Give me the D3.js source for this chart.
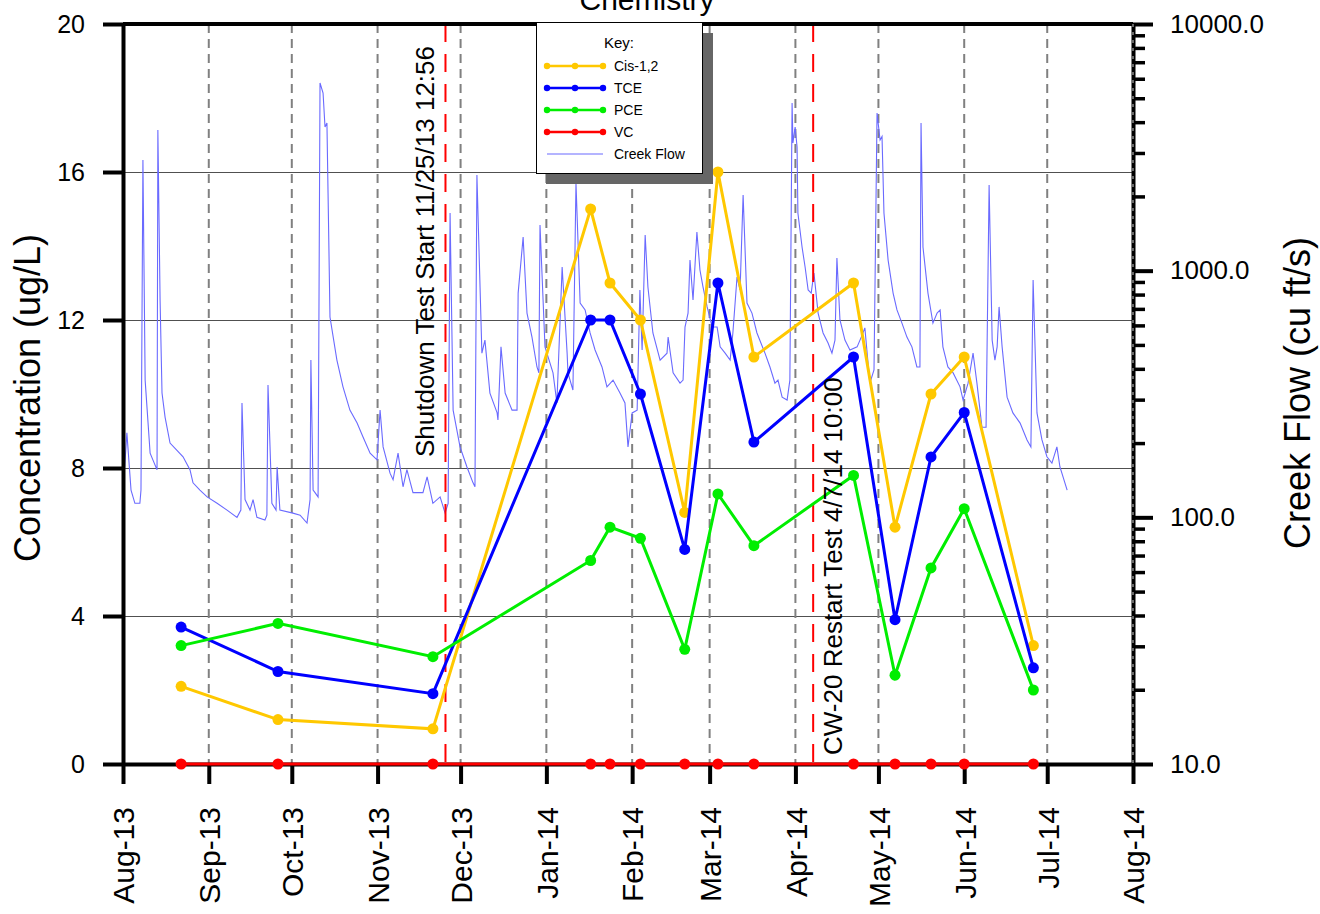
<!DOCTYPE html>
<html>
<head>
<meta charset="utf-8">
<title>Chemistry</title>
<script src="https://d3js.org/d3.v7.min.js"></script>
<style>
body {margin:0; background:white;}
text {font-family: "Liberation Sans", Arial, sans-serif; fill: black;}
</style>
</head>
<body>
<svg width="1320" height="914"></svg>
<script>
// sampling dates and concentrations (ug/L)
var sampleDates = ["2013-08-22", "2013-09-26", "2013-11-21", "2014-01-17", "2014-01-24", "2014-02-04", "2014-02-20",
                   "2014-03-04", "2014-03-17", "2014-04-22", "2014-05-07", "2014-05-20", "2014-06-01", "2014-06-26"];
var cis12 = [2.1, 1.2, 0.95, 15.0, 13.0, 12.0, 6.8, 16.0, 11.0, 13.0, 6.4, 10.0, 11.0, 3.2];
var tce   = [3.7, 2.5, 1.9, 12.0, 12.0, 10.0, 5.8, 13.0, 8.7, 11.0, 3.9, 8.3, 9.5, 2.6];
var pce   = [3.2, 3.8, 2.9, 5.5, 6.4, 6.1, 3.1, 7.3, 5.9, 7.8, 2.4, 5.3, 6.9, 2.0];
var vc    = [0, 0, 0, 0, 0, 0, 0, 0, 0, 0, 0, 0, 0, 0];

// creek flow (cu ft/s), days counted from flowStart
var flowStart = "2013-08-01";
var flowDays = [0, 1.4, 2.9, 4.3, 6.1, 6.5, 7.2, 8.0, 9.8, 10.8, 12.3, 12.6, 13.4, 14.1, 15.2, 17.0, 19.5, 21.7, 24.2, 25.3,
  27.8, 30.4, 34.0, 37.6, 41.2, 42.6, 43.0, 44.1, 45.9, 47.0, 48.4, 51.3, 52.0, 52.4, 53.8, 55.3, 55.7, 56.7, 61.4, 64.0,
  66.5, 67.6, 67.9, 68.7, 69.4, 70.5, 71.2, 72.3, 73.0, 73.7, 74.1, 74.8, 77.3, 79.5, 82.0, 84.6, 86.7, 89.3, 91.8, 92.9,
  94.0, 96.5, 97.6, 99.4, 101.2, 102.6, 104.8, 108.4, 109.9, 112.0, 114.6, 116.4, 117.5, 118.2, 119.3, 121.8, 124.3, 126.5, 127.2, 127.9,
  129.7, 130.8, 132.6, 135.2, 135.5, 136.6, 138.1, 140.6, 142.4, 142.8, 144.6, 146.0, 147.8, 149.6, 150.3, 150.7, 152.5, 155.4, 156.8, 158.7,
  160.5, 160.8, 162.6, 163.7, 165.2, 167.0, 168.8, 170.6, 173.1, 174.9, 177.1, 179.6, 181.4, 182.5, 184.0, 185.8, 186.8, 187.6, 188.7, 189.7,
  191.5, 194.1, 196.6, 197.0, 198.8, 201.3, 202.4, 203.1, 204.2, 204.9, 206.0, 207.4, 208.5, 209.6, 211.1, 212.9, 214.7, 215.8, 217.6, 219.4,
  220.4, 221.9, 223.0, 224.1, 225.5, 227.3, 229.1, 232.0, 233.8, 235.6, 236.7, 238.2, 240.0, 241.0, 241.8, 242.1, 242.9, 243.6, 243.9, 245.4,
  246.5, 247.6, 248.7, 249.7, 251.2, 253.0, 254.8, 256.2, 257.3, 258.0, 259.1, 260.9, 262.7, 265.3, 267.1, 268.1, 269.9, 271.4, 272.5, 273.6,
  274.3, 275.0, 276.5, 278.3, 279.7, 281.5, 283.3, 285.1, 286.9, 288.0, 288.4, 289.1, 290.9, 292.7, 294.2, 295.3, 296.3, 298.1, 300.0, 302.5,
  303.6, 305.4, 307.2, 308.6, 310.4, 311.9, 313.0, 314.1, 315.1, 315.9, 316.6, 317.7, 319.5, 321.6, 324.2, 326.7, 328.1, 328.9, 330.3, 332.1,
  333.9, 335.7, 337.5, 338.6, 341.2];
var flowCfs = [126, 220, 129, 114, 114, 129, 2812, 360, 182, 171, 156, 3715, 760, 319, 255, 200, 187, 176, 156, 138,
  129, 121, 114, 107, 100, 107, 291, 118, 107, 118, 100, 97.5, 102, 344, 114, 107, 160, 107, 104, 102,
  94.8, 118, 434, 129, 126, 121, 5768, 5250, 3822, 3970, 2065, 649, 434, 338, 272, 241, 212, 182, 171, 272,
  193, 151, 142, 182, 133, 156, 126, 126, 146, 114, 121, 104, 114, 1714, 272, 193, 160, 138, 133, 2443,
  463, 523, 319, 265, 248, 491, 319, 272, 272, 811, 1368, 673, 538, 407, 385, 1532, 491, 385, 291, 1035,
  463, 385, 328, 2266, 739, 693, 559, 477, 407, 338, 360, 319, 291, 193, 265, 272, 835, 477, 1396, 859,
  559, 434, 463, 538, 385, 350, 360, 591, 673, 1104, 760, 1435, 1006, 859, 713, 591, 591, 491, 463, 434,
  559, 942, 835, 2027, 739, 673, 559, 463, 407, 350, 360, 307, 299, 360, 4786, 3293, 3822, 3172, 1714, 1247,
  1035, 835, 811, 979, 673, 559, 509, 463, 523, 1125, 631, 523, 477, 491, 548, 586, 350, 396, 4355, 3388,
  3500, 1714, 1104, 811, 693, 613, 538, 491, 407, 407, 3970, 1247, 811, 613, 673, 693, 491, 407, 385, 338,
  299, 350, 463, 350, 232, 232, 2223, 523, 434, 491, 713, 491, 307, 265, 241, 206, 193, 916, 265, 206,
  176, 166, 193, 160, 129];

var concTicks = [0, 4, 8, 12, 16, 20];
var flowTicks = [10, 100, 1000, 10000];
var eventDates = ["2013-11-25T12:56", "2014-04-07T10:00"];
var eventLabels = ["Shutdown Test Start 11/25/13 12:56", "CW-20 Restart Test 4/7/14 10:00"];

var seriesNames = ["Cis-1,2", "TCE", "PCE", "VC"];
var seriesColors = ["#FFC800", "#0000FF", "#00EE00", "#FF0000"];
var flowColor = "#6A6AFF";

var plotLeft = 123, plotRight = 1133, plotTop = 24, plotBottom = 764;
var parseDay = d3.utcParse("%Y-%m-%d");
var parseTime = d3.utcParse("%Y-%m-%dT%H:%M");

var x = d3.scaleUtc().domain([parseDay("2013-08-01"), parseDay("2014-08-01")]).range([plotLeft, plotRight]);
var y = d3.scaleLinear().domain([0, 20]).range([plotBottom, plotTop]);
var yFlow = d3.scaleLog().domain([10, 10000]).range([plotBottom, plotTop]);

var svg = d3.select("svg");
var months = d3.utcMonth.range(parseDay("2013-08-01"), parseDay("2014-08-02"));

// title (clipped at the top)
svg.append("text")
  .attr("x", 647).attr("y", 10)
  .attr("text-anchor", "middle")
  .style("font-size", "30px")
  .text("Chemistry");

// horizontal grid
svg.append("g").selectAll("line")
  .data([4, 8, 12, 16])
  .enter().append("line")
  .attr("x1", plotLeft).attr("x2", plotRight)
  .attr("y1", function(d) { return y(d) + 0.5; }).attr("y2", function(d) { return y(d) + 0.5; })
  .attr("stroke", "#505050").attr("stroke-width", 1);

// vertical dashed grid at months
svg.append("g").selectAll("line")
  .data(months.slice(1, months.length - 1))
  .enter().append("line")
  .attr("x1", function(d) { return x(d); }).attr("x2", function(d) { return x(d); })
  .attr("y1", plotTop).attr("y2", plotBottom)
  .attr("stroke", "#808080").attr("stroke-width", 2)
  .attr("stroke-dasharray", "9,6");

// creek flow
var flowBase = parseDay(flowStart);
var flowData = flowDays.map(function(d, i) {
  return {date: new Date(flowBase.getTime() + d * 86400000), q: flowCfs[i]};
});
svg.append("path")
  .datum(flowData)
  .attr("fill", "none")
  .attr("stroke", flowColor)
  .attr("stroke-width", 1.1)
  .attr("d", d3.line().x(function(d) { return x(d.date); }).y(function(d) { return yFlow(d.q); }));

// event lines
eventDates.forEach(function(e, i) {
  var ex = x(parseTime(e));
  svg.append("line")
    .attr("x1", ex).attr("x2", ex).attr("y1", plotTop).attr("y2", plotBottom)
    .attr("stroke", "#FF0000").attr("stroke-width", 2)
    .attr("stroke-dasharray", "18,12");
});

// frame: top line
svg.append("line")
  .attr("x1", plotLeft).attr("x2", plotRight).attr("y1", plotTop).attr("y2", plotTop)
  .attr("stroke", "black").attr("stroke-width", 4);

// left axis
var yAxis = d3.axisLeft(y).tickValues(concTicks).tickSize(20).tickSizeOuter(0).tickPadding(18).tickFormat(d3.format("d"));
var gy = svg.append("g").attr("transform", "translate(" + plotLeft + ",0)").call(yAxis);
gy.select(".domain").attr("stroke-width", 4);
gy.selectAll(".tick line").attr("stroke-width", 4);
gy.selectAll("text").style("font-size", "25px").style("font-family", "Liberation Sans, Arial, sans-serif");

// bottom axis
var xAxis = d3.axisBottom(x).tickValues(months).tickSize(20).tickSizeOuter(0).tickFormat(d3.utcFormat("%b-%y"));
var gx = svg.append("g").attr("transform", "translate(0," + plotBottom + ")").call(xAxis);
gx.select(".domain").attr("stroke-width", 4);
gx.selectAll(".tick line").attr("stroke-width", 4);
gx.selectAll("text")
  .style("font-size", "30px").style("font-family", "Liberation Sans, Arial, sans-serif")
  .attr("text-anchor", "end")
  .attr("transform", "rotate(-90)")
  .attr("x", -43).attr("y", 0).attr("dy", "0.36em");

// right axis (log)
var minorTicks = [];
[10, 100, 1000].forEach(function(dec) {
  for (var k = 2; k <= 9; k++) minorTicks.push(dec * k);
});
var gMinor = svg.append("g").attr("transform", "translate(" + plotRight + ",0)")
  .call(d3.axisRight(yFlow).tickValues(minorTicks).tickSize(12).tickSizeOuter(0).tickFormat(""));
gMinor.select(".domain").remove();
gMinor.selectAll(".tick line").attr("stroke-width", 3.5);

var gr = svg.append("g").attr("transform", "translate(" + plotRight + ",0)")
  .call(d3.axisRight(yFlow).tickValues(flowTicks).tickSize(20).tickSizeOuter(0).tickPadding(17).tickFormat(d3.format(".1f")));
gr.select(".domain").attr("stroke-width", 4);
gr.selectAll(".tick line").attr("stroke-width", 4);
gr.selectAll("text").style("font-size", "26px").style("font-family", "Liberation Sans, Arial, sans-serif");
svg.append("line")
  .attr("x1", plotRight).attr("x2", plotRight).attr("y1", plotTop).attr("y2", plotBottom)
  .attr("stroke", "#8a8a8a").attr("stroke-width", 1.5)
  .attr("stroke-dasharray", "3,5");

// concentration series (drawn over the axes, VC sits on the zero line)
var allSeries = [cis12, tce, pce, vc];
allSeries.forEach(function(vals, i) {
  var pts = vals.map(function(v, j) { return {date: parseDay(sampleDates[j]), v: v}; });
  svg.append("path")
    .datum(pts)
    .attr("fill", "none")
    .attr("stroke", seriesColors[i])
    .attr("stroke-width", 3)
    .attr("d", d3.line().x(function(d) { return x(d.date); }).y(function(d) { return y(d.v); }));
  svg.append("g").selectAll("circle")
    .data(pts)
    .enter().append("circle")
    .attr("cx", function(d) { return x(d.date); })
    .attr("cy", function(d) { return y(d.v); })
    .attr("r", 5.5)
    .attr("fill", seriesColors[i]);
});

// event labels
svg.append("text")
  .attr("transform", "translate(" + (x(parseTime(eventDates[0])) - 11) + ",457) rotate(-90)")
  .style("font-size", "26px")
  .text(eventLabels[0]);
svg.append("text")
  .attr("transform", "translate(" + (x(parseTime(eventDates[1])) + 29) + ",755) rotate(-90)")
  .style("font-size", "26px")
  .text(eventLabels[1]);

// axis titles
svg.append("text")
  .attr("transform", "translate(40,398) rotate(-90)")
  .attr("text-anchor", "middle")
  .style("font-size", "36px")
  .text("Concentration (ug/L)");
svg.append("text")
  .attr("transform", "translate(1310,393) rotate(-90)")
  .attr("text-anchor", "middle")
  .style("font-size", "36px")
  .text("Creek Flow (cu ft/s)");

// legend
var lg = svg.append("g");
lg.append("rect").attr("x", 546).attr("y", 33).attr("width", 167).attr("height", 151).attr("fill", "#666");
lg.append("rect").attr("x", 536.5).attr("y", 22.5).attr("width", 166).attr("height", 151)
  .attr("fill", "white").attr("stroke", "black").attr("stroke-width", 1);
lg.append("text").attr("x", 619).attr("y", 48).attr("text-anchor", "middle").style("font-size", "15px").text("Key:");
seriesNames.forEach(function(name, i) {
  var ly = 66 + 22 * i;
  lg.append("line").attr("x1", 547).attr("x2", 603).attr("y1", ly).attr("y2", ly)
    .attr("stroke", seriesColors[i]).attr("stroke-width", 2.5);
  [547, 575, 603].forEach(function(cx) {
    lg.append("circle").attr("cx", cx).attr("cy", ly).attr("r", 3.2).attr("fill", seriesColors[i]);
  });
  lg.append("text").attr("x", 614).attr("y", ly + 5).style("font-size", "14px").text(name);
});
lg.append("line").attr("x1", 547).attr("x2", 603).attr("y1", 154).attr("y2", 154)
  .attr("stroke", flowColor).attr("stroke-width", 1.1);
lg.append("text").attr("x", 614).attr("y", 159).style("font-size", "14px").text("Creek Flow");
</script>
</body>
</html>
